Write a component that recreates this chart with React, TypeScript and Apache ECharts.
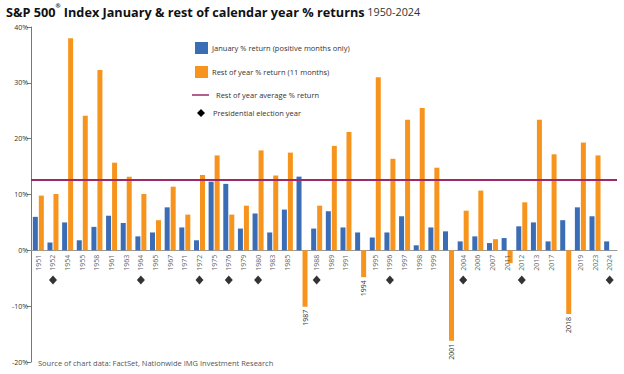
import React, { useEffect, useRef } from "react";
import * as echarts from "echarts";

const years = ["1951","1952","1954","1955","1958","1961","1963","1964","1965","1967","1971","1972","1975","1976","1979","1980","1983","1985","1987","1988","1989","1991","1994","1995","1996","1997","1998","1999","2001","2004","2006","2007","2011","2012","2013","2017","2018","2019","2023","2024"];
const januaryReturn = [6.0,1.4,5.0,1.8,4.2,6.2,4.9,2.5,3.2,7.7,4.1,1.8,12.3,11.9,3.9,6.6,3.2,7.3,13.2,3.9,7.0,4.1,3.2,2.3,3.2,6.1,0.9,4.1,3.4,1.6,2.5,1.3,2.2,4.3,5.0,1.6,5.4,7.7,6.1,1.6];
const restOfYearReturn: (number | null)[] = [9.8,10.1,38.0,24.1,32.3,15.7,13.2,10.1,5.4,11.4,6.4,13.5,17.0,6.4,8.0,17.9,13.4,17.5,-10.1,8.0,18.7,21.2,-4.8,31.0,16.4,23.4,25.5,14.8,-16.2,7.1,10.7,2.0,-2.3,8.6,23.4,17.2,-11.4,19.3,17.0,null];
const electionYears = ["1952","1964","1972","1976","1980","1988","1996","2004","2012","2024"];
const labelBelowBarYears = ["1987","1994","2001","2018"];
const restOfYearAverage = 12.7;
const electionMarkerLevel = -5.3;
const yTicks = { min: -20, max: 40, interval: 10 };

const BLUE = "#3A6DB5";
const ORANGE = "#F7941D";
const PURPLE = "#9C2A6B";
const FONT = "Open Sans";

const yearLabelStyle = {
  show: true,
  rotate: 90,
  align: "right",
  verticalAlign: "middle",
  fontSize: 7,
  fontFamily: FONT,
  color: "#333",
};

export default function App() {
  const ref = useRef<HTMLDivElement>(null);
  useEffect(() => {
    if (!ref.current) return;
    const chart = echarts.init(ref.current, undefined, { renderer: "svg" });
    const legendText = (text: string, x: number, y: number) => ({
      type: "text",
      x,
      y,
      style: { text, fill: "#333", fontSize: 7.5, fontFamily: FONT, verticalAlign: "middle" },
    });
    chart.setOption({
      animation: false,
      backgroundColor: "#fff",
      grid: { left: 31, right: 7, top: 27, bottom: 12, containLabel: false, outerBoundsMode: "none" },
      xAxis: {
        type: "category",
        data: years,
        axisLine: { onZero: true, lineStyle: { color: "#999", width: 1 } },
        axisTick: { show: false },
        axisLabel: { show: false },
        splitLine: { show: false },
      },
      yAxis: {
        type: "value",
        min: yTicks.min,
        max: yTicks.max,
        interval: yTicks.interval,
        axisLine: { show: true, lineStyle: { color: "#777", width: 1 } },
        axisTick: { show: true, length: 4, lineStyle: { color: "#777" } },
        axisLabel: { formatter: "{value}%", fontSize: 7, fontFamily: FONT, color: "#333", margin: 3 },
        splitLine: { show: false },
      },
      series: [
        {
          name: "January % return (positive months only)",
          type: "bar",
          data: januaryReturn,
          barWidth: 5,
          barGap: "20%",
          itemStyle: { color: BLUE },
        },
        {
          name: "Rest of year % return (11 months)",
          type: "bar",
          data: restOfYearReturn,
          barWidth: 5,
          itemStyle: { color: ORANGE },
          label: {
            ...yearLabelStyle,
            position: "bottom",
            distance: 3,
            formatter: (p: any) => (labelBelowBarYears.includes(p.name) ? p.name : ""),
          },
          markLine: {
            silent: true,
            symbol: "none",
            label: { show: false },
            lineStyle: { color: PURPLE, width: 2, type: "solid" },
            data: [{ yAxis: restOfYearAverage }],
          },
        },
        {
          name: "Year labels",
          type: "scatter",
          data: years.filter((y) => !labelBelowBarYears.includes(y)).map((y) => [y, 0]),
          symbolSize: 1,
          itemStyle: { color: "transparent" },
          silent: true,
          z: 5,
          label: {
            ...yearLabelStyle,
            position: "bottom",
            distance: 4,
            formatter: (p: any) => p.value[0],
          },
        },
        {
          name: "Presidential election year",
          type: "scatter",
          data: electionYears.map((y) => [y, electionMarkerLevel]),
          symbol: "diamond",
          symbolSize: [8, 9],
          itemStyle: { color: "#000" },
        },
      ],
      graphic: [
        {
          type: "text",
          x: 6,
          y: 3,
          style: {
            text: "{b|S&P 500}{s|®}{b| Index January & rest of calendar year % returns}{n| 1950-2024}",
            fill: "#111",
            rich: {
              b: { fontSize: 12.7, fontWeight: "bold", fontFamily: FONT, fill: "#111", lineHeight: 17 },
              s: { fontSize: 6, fontWeight: "bold", fontFamily: FONT, fill: "#111", verticalAlign: "top", lineHeight: 10 },
              n: { fontSize: 10.8, fontFamily: FONT, fill: "#333", lineHeight: 17 },
            },
          },
        },
        { type: "rect", shape: { x: 195, y: 42, width: 13, height: 12 }, style: { fill: BLUE } },
        legendText("January % return (positive months only)", 212, 48),
        { type: "rect", shape: { x: 195, y: 66, width: 13, height: 12 }, style: { fill: ORANGE } },
        legendText("Rest of year % return (11 months)", 212, 72),
        { type: "line", shape: { x1: 192, y1: 95, x2: 209, y2: 95 }, style: { stroke: PURPLE, lineWidth: 1.5 } },
        legendText("Rest of year average % return", 216, 95),
        { type: "polygon", shape: { points: [[201, 109], [205, 113], [201, 117], [197, 113]] }, style: { fill: "#000" } },
        legendText("Presidential election year", 213, 113),
        {
          type: "text",
          x: 38,
          y: 363,
          style: { text: "Source of chart data: FactSet, Nationwide IMG Investment Research", fill: "#555", fontSize: 7.5, fontFamily: FONT, verticalAlign: "middle" },
        },
      ],
    });
    return () => chart.dispose();
  }, []);
  return <div ref={ref} style={{ position: "fixed", left: 0, top: 0, width: 624, height: 374 }} />;
}
